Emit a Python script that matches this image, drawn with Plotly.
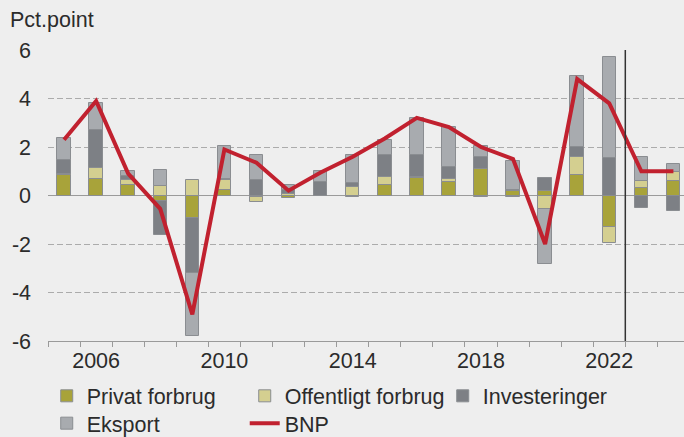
import plotly.graph_objects as go

years = list(range(2005, 2025))
privat = [0.85, 0.69, 0.44, -0.24, -0.92, 0.24, -0.08, -0.10, 0.00, -0.07,
          0.44, 0.74, 0.55, 1.10, 0.20, 0.17, 0.83, -1.31, 0.30, 0.59]
offentligt = [0.02, 0.45, 0.18, 0.38, 0.65, 0.38, -0.17, 0.07, 0.0, 0.37,
              0.32, 0.02, 0.14, -0.05, -0.05, -0.55, 0.75, -0.64, 0.29, 0.37]
investeringer = [0.60, 1.55, 0.18, -1.37, -2.27, 0.05, 0.65, 0.17, 0.54, 0.14,
                 0.89, 0.89, 0.48, 0.48, 0.04, 0.55, 0.44, 1.54, -0.52, -0.65]
eksport = [0.92, 1.14, 0.20, 0.68, -2.62, 1.38, 1.00, 0.20, 0.45, 1.17,
           0.62, 1.55, 1.65, 0.46, 1.20, -2.28, 2.91, 4.18, 0.99, 0.32]
bnp = [2.3, 3.9, 0.9, -0.55, -4.9, 1.9, 1.35, 0.2, 0.95, 1.6,
       2.35, 3.2, 2.82, 2.0, 1.5, -2.0, 4.8, 3.8, 1.0, 1.0]

series = [
    ("Privat forbrug", privat, "#a8a33a", "legend"),
    ("Offentligt forbrug", offentligt, "#d4cf90", "legend"),
    ("Investeringer", investeringer, "#7d8085", "legend"),
    ("Eksport", eksport, "#a8abaf", "legend2"),
]

x_ticks = [2006, 2010, 2014, 2018, 2022]
y_ticks = [-6, -4, -2, 0, 2, 4, 6]
y_labels = ["-6", "-4", "-2", "0", "2", "4", "6"]

FONT = "Liberation Sans, Arial, sans-serif"
fig = go.Figure()
for name, vals, col, leg in series:
    fig.add_trace(go.Bar(
        x=years, y=vals, name=name, width=0.42, legend=leg,
        marker=dict(color=col, line=dict(color="#8a8d91", width=1)),
    ))
fig.add_trace(go.Scatter(
    x=years, y=bnp, name="BNP", mode="lines", legend="legend2",
    line=dict(color="#c1212f", width=4),
))

fig.add_shape(type="line", xref="x", yref="y", x0=2022.5, x1=2022.5, y0=-6, y1=6,
              line=dict(color="#333333", width=1.5), layer="above")

fig.add_annotation(text="Pct.point", xref="paper", yref="paper",
                   x=-0.063, y=1.103, xanchor="left", yanchor="middle",
                   showarrow=False, font=dict(size=21.5, color="#2b2b2b", family=FONT))

legend_common = dict(orientation="h", xanchor="left", yanchor="top",
                     entrywidth=153, itemwidth=30, tracegroupgap=0,
                     font=dict(size=21.5, family=FONT, color="#2b2b2b"),
                     bgcolor="rgba(0,0,0,0)")

fig.update_layout(
    width=684, height=437,
    barmode="relative",
    bargap=0,
    paper_bgcolor="#eeeeee", plot_bgcolor="#eeeeee",
    margin=dict(l=48, r=0, t=50, b=96, autoexpand=False),
    font=dict(family=FONT, size=21, color="#2b2b2b"),
    showlegend=True,
    legend=dict(x=-0.002, y=-0.118, **legend_common),
    legend2=dict(x=-0.002, y=-0.212, **legend_common),
    xaxis=dict(range=[2004.5, 2024.33], tickmode="array", tickvals=x_ticks,
               ticks="", showgrid=False, zeroline=False,
               showline=True, linecolor="#9a9a9a", linewidth=1,
               minor=dict(tickmode="array",
                          tickvals=[y + 0.5 for y in range(2004, 2025)],
                          ticks="outside", ticklen=5, tickcolor="#9a9a9a", showgrid=False),
               tickfont=dict(size=21.5)),
    yaxis=dict(range=[-6, 6], tickmode="array", tickvals=y_ticks, ticktext=y_labels,
               ticks="", showgrid=True, gridcolor="#ababab", griddash="6px,3px", gridwidth=1,
               zeroline=True, zerolinecolor="#9a9a9a", zerolinewidth=1,
               showline=False, ticklabelstandoff=16, tickfont=dict(size=21.5)),
)

fig.write_html(
    "out.html",
    config={"displayModeBar": False},
    post_script="document.body.style.margin='0px';document.body.style.background='#eeeeee';",
)
